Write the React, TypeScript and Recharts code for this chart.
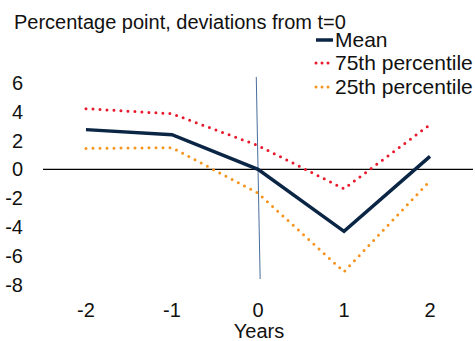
import React from "react";
import { LineChart, Line, XAxis, YAxis, ReferenceLine } from "recharts";

const years = [-2, -1, 0, 1, 2];
const meanValues = [2.75, 2.4, 0, -4.3, 0.9];
const p75Values = [4.2, 3.85, 1.65, -1.35, 3.1];
const p25Values = [1.45, 1.5, -1.65, -7.1, -0.8];
const yTicks = [-8, -6, -4, -2, 0, 2, 4, 6];

const data = years.map((y, i) => ({
  year: y,
  mean: meanValues[i],
  p75: p75Values[i],
  p25: p25Values[i],
}));

const FONT = "'Liberation Sans', Arial, sans-serif";
const FS = 20;

const legendItems = [
  { label: "Mean", color: "#0b2545", dotted: false },
  { label: "75th percentile", color: "#e8192c", dotted: true },
  { label: "25th percentile", color: "#f7941d", dotted: true },
];

function LegendBox() {
  return (
    <div
      style={{
        position: "absolute",
        left: 313,
        top: 28,
        fontFamily: FONT,
        fontSize: 21,
        color: "#111",
        whiteSpace: "nowrap",
      }}
    >
      {legendItems.map((it) => (
        <div key={it.label} style={{ display: "flex", alignItems: "center", height: 23.5 }}>
          <svg width={22} height={10}>
            <line
              x1={3}
              y1={5}
              x2={20}
              y2={5}
              stroke={it.color}
              strokeWidth={it.dotted ? 3 : 3.5}
              strokeDasharray={it.dotted ? "0 6" : undefined}
              strokeLinecap={it.dotted ? "round" : "butt"}
            />
          </svg>
          <span>{it.label}</span>
        </div>
      ))}
    </div>
  );
}

export default function App() {
  return (
    <div
      style={{
        position: "absolute",
        left: 0,
        top: 0,
        width: 475,
        height: 341,
        background: "#fff",
        overflow: "hidden",
        fontFamily: FONT,
      }}
    >
      <div
        style={{
          position: "absolute",
          left: 14,
          top: 11,
          fontSize: FS,
          color: "#111",
          whiteSpace: "nowrap",
        }}
      >
        Percentage point, deviations from t=0
      </div>
      <LineChart
        width={475}
        height={341}
        data={data}
        margin={{ top: 75.5, right: 2, bottom: 0, left: 0 }}
      >
        <XAxis
          dataKey="year"
          type="number"
          domain={[-2.5, 2.5]}
          ticks={years}
          axisLine={false}
          tickLine={false}
          tickSize={0}
          tickMargin={11}
          height={49}
          tick={{ fill: "#111", fontSize: FS, fontFamily: FONT }}
        />
        <YAxis
          type="number"
          domain={[-8.5, 6.5]}
          ticks={yTicks}
          axisLine={false}
          tickLine={false}
          tickSize={0}
          tickMargin={20}
          width={43}
          tick={{ fill: "#111", fontSize: FS, fontFamily: FONT }}
        />
        <ReferenceLine y={0} stroke="#000" strokeWidth={1.2} />
        <ReferenceLine
          segment={[
            { x: -0.02, y: 6.4 },
            { x: 0.025, y: -7.6 },
          ]}
          stroke="#4a6d9c"
          strokeWidth={1}
          ifOverflow="visible"
        />
        <Line
          dataKey="p75"
          stroke="#e8192c"
          strokeWidth={3}
          strokeDasharray="0 7"
          strokeLinecap="round"
          dot={false}
          isAnimationActive={false}
        />
        <Line
          dataKey="p25"
          stroke="#f7941d"
          strokeWidth={3}
          strokeDasharray="0 7"
          strokeLinecap="round"
          dot={false}
          isAnimationActive={false}
        />
        <Line
          dataKey="mean"
          stroke="#0b2545"
          strokeWidth={3.5}
          strokeLinejoin="miter"
          dot={false}
          isAnimationActive={false}
        />
      </LineChart>
      <LegendBox />
      <div
        style={{
          position: "absolute",
          left: 0,
          width: 518,
          top: 320,
          textAlign: "center",
          fontSize: FS,
          color: "#111",
          lineHeight: "23px",
        }}
      >
        Years
      </div>
    </div>
  );
}
